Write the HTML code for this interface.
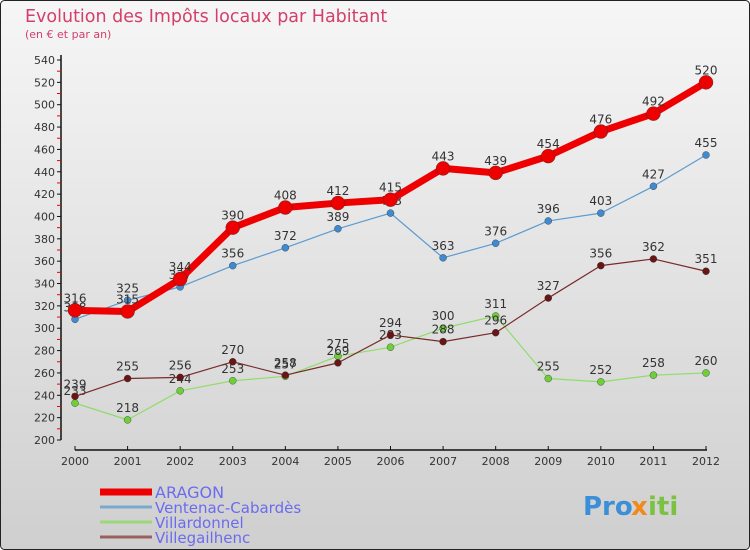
<!DOCTYPE html>
<html><head><meta charset="utf-8"><style>
body{margin:0}
#c{position:relative;width:750px;height:550px;overflow:hidden;font-family:"DejaVu Sans","Liberation Sans",sans-serif}
</style></head><body>
<div id="c">
<svg id="s" width="750" height="550" xmlns="http://www.w3.org/2000/svg">
<defs><linearGradient id="bg" x1="0" y1="0" x2="0" y2="1"><stop offset="0" stop-color="#f6f6f6"/><stop offset="1" stop-color="#cfcfcf"/></linearGradient></defs>
<rect x="0.5" y="0.5" width="749" height="549" rx="4" fill="url(#bg)" stroke="#222"/>
<text x="25" y="22" font-size="17.5" fill="#d33f6b">Evolution des Impôts locaux par Habitant</text>
<text x="25" y="38" font-size="11" fill="#d33f6b">(en € et par an)</text>
<g id="axes"></g><g id="series"></g><g id="legend"></g>
<g font-size="26" font-weight="bold">
<text x="583" y="515" fill="#3a8fd8">Pro</text><text x="631" y="515" fill="#f08a1c">x</text><text x="648" y="515" fill="#7cc242">iti</text>
</g>
</svg>
</div>
<script>
const years=["2000","2001","2002","2003","2004","2005","2006","2007","2008","2009","2010","2011","2012"];
const aragon=[316,315,344,390,408,412,415,443,439,454,476,492,520];
const ventenac=[308,325,337,356,372,389,403,363,376,396,403,427,455];
const villardonnel=[233,218,244,253,257,275,283,300,311,255,252,258,260];
const villegailhenc=[239,255,256,270,258,269,294,288,296,327,356,362,351];
const yTicks=[200,220,240,260,280,300,320,340,360,380,400,420,440,460,480,500,520,540];
const names=["ARAGON","Ventenac-Cabardès","Villardonnel","Villegailhenc"];
const NS="http://www.w3.org/2000/svg";
const x=i=>75+i*(706-75)/(years.length-1);
const y=v=>440-(v-200)*380/340;
function el(t,a,p){const e=document.createElementNS(NS,t);for(const k in a)e.setAttribute(k,a[k]);p.appendChild(e);return e;}
const ax=document.getElementById('axes');
const ya=el('line',{x1:61,y1:55,x2:61,y2:440,stroke:'#111','stroke-width':1.5},ax);


yTicks.forEach((v,k)=>{
 el('line',{x1:57,y1:y(v),x2:61,y2:y(v),stroke:'#111'},ax);
 if(k<yTicks.length-1) el('line',{x1:57,y1:y(v+10),x2:61,y2:y(v+10),stroke:'#e00'},ax);
 const t=el('text',{x:55,y:y(v)+4,'font-size':11,fill:'#333','text-anchor':'end'},ax);t.textContent=v;
 
 
});
const xa=el('line',{x1:75,y1:450,x2:707,y2:450,stroke:'#111','stroke-width':1.5},ax);


years.forEach((yr,i)=>{
 el('line',{x1:x(i),y1:446,x2:x(i),y2:450,stroke:'#111'},ax);
 const t=el('text',{x:x(i),y:465,'font-size':11,fill:'#333','text-anchor':'middle'},ax);t.textContent=yr;
 
 
});
const sg=document.getElementById('series');
const cfg=[[ventenac,'#5b9bd1','#3f8ad0',1.2,3.5,'ventenac'],[villardonnel,'#8fdc6a','#6fcf3a',1.2,3.5,'villardonnel'],[villegailhenc,'#7a2a2a','#6a1515',1.2,3.5,'villegailhenc'],[aragon,'#ee0000','#ee0000',7,7,'aragon']];
cfg.forEach(([d,lc,mc,w,r,n])=>{
 const g=el('g',{},sg);
 
 
 const pl=el('polyline',{points:d.map((v,i)=>x(i)+','+y(v)).join(' '),fill:'none',stroke:lc,'stroke-width':w,'stroke-linejoin':'round'},g);
 
 
 d.forEach((v,i)=>{
  const c=el('circle',{cx:x(i),cy:y(v),r:r,fill:mc,stroke:'#333','stroke-width':0.4},g);
  
  
  const t=el('text',{x:x(i),y:y(v)-8,'font-size':12,fill:'#333','text-anchor':'middle'},g);t.textContent=v;
  
  
 });
});
const lg=document.getElementById('legend');
const lc=[['#ee0000',7],['#7aa9d0',3],['#9bd87a',3],['#9a6060',3]];
names.forEach((nm,i)=>{
 const yy=492+i*15;
 const g=el('g',{},lg);
 
 
 el('line',{x1:100,y1:yy,x2:152,y2:yy,stroke:lc[i][0],'stroke-width':lc[i][1]},g);
 const t=el('text',{x:155,y:yy+6,'font-size':i==0?16:15,fill:'#6b6bf0'},g);t.textContent=nm;
});
</script>
</body></html>
